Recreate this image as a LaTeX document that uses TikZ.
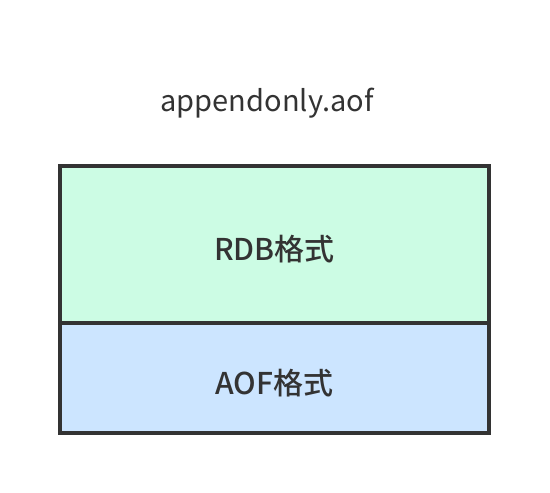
\documentclass[tikz,border=0pt]{standalone}
\usepackage{fontspec}
\setmainfont{Noto Sans CJK SC}
\newfontfamily\labelfont{Noto Sans CJK SC Medium}
\usepackage{tikz}
\usetikzlibrary{positioning}
\tikzstyle{part} = [draw=partborder, line width=4pt, outer sep=0pt, minimum width=429pt, inner sep=0pt, text height=32pt, text depth=0pt, text centered, text=titlecolor, font=\labelfont\fontsize{30}{34}\selectfont]
\begin{document}
\begin{tikzpicture}[x=1pt,y=-1pt]
  % Colors
  \colorlet{partborder}{black!80}
  \definecolor{rdbcolor}{HTML}{CCFCE4}
  \definecolor{aofcolor}{HTML}{CCE5FF}
  \colorlet{titlecolor}{black!80}

  % Styles
  \tikzstyle{file title}=[text=titlecolor, font=\fontsize{29}{32}\selectfont]

  % The graphic
  \useasboundingbox (0,0) rectangle (550,493);

  \node[style=part, fill=rdbcolor, minimum height=157pt] (rdb) at (274.5,244.5) {RDB格式};
  \node[style=part, fill=aofcolor, minimum height=110pt, below=0pt of rdb.south, anchor=north] (aof) {AOF格式};

  \node[style=file title] (title) at (267,103) {appendonly.aof};
\end{tikzpicture}
\end{document}
